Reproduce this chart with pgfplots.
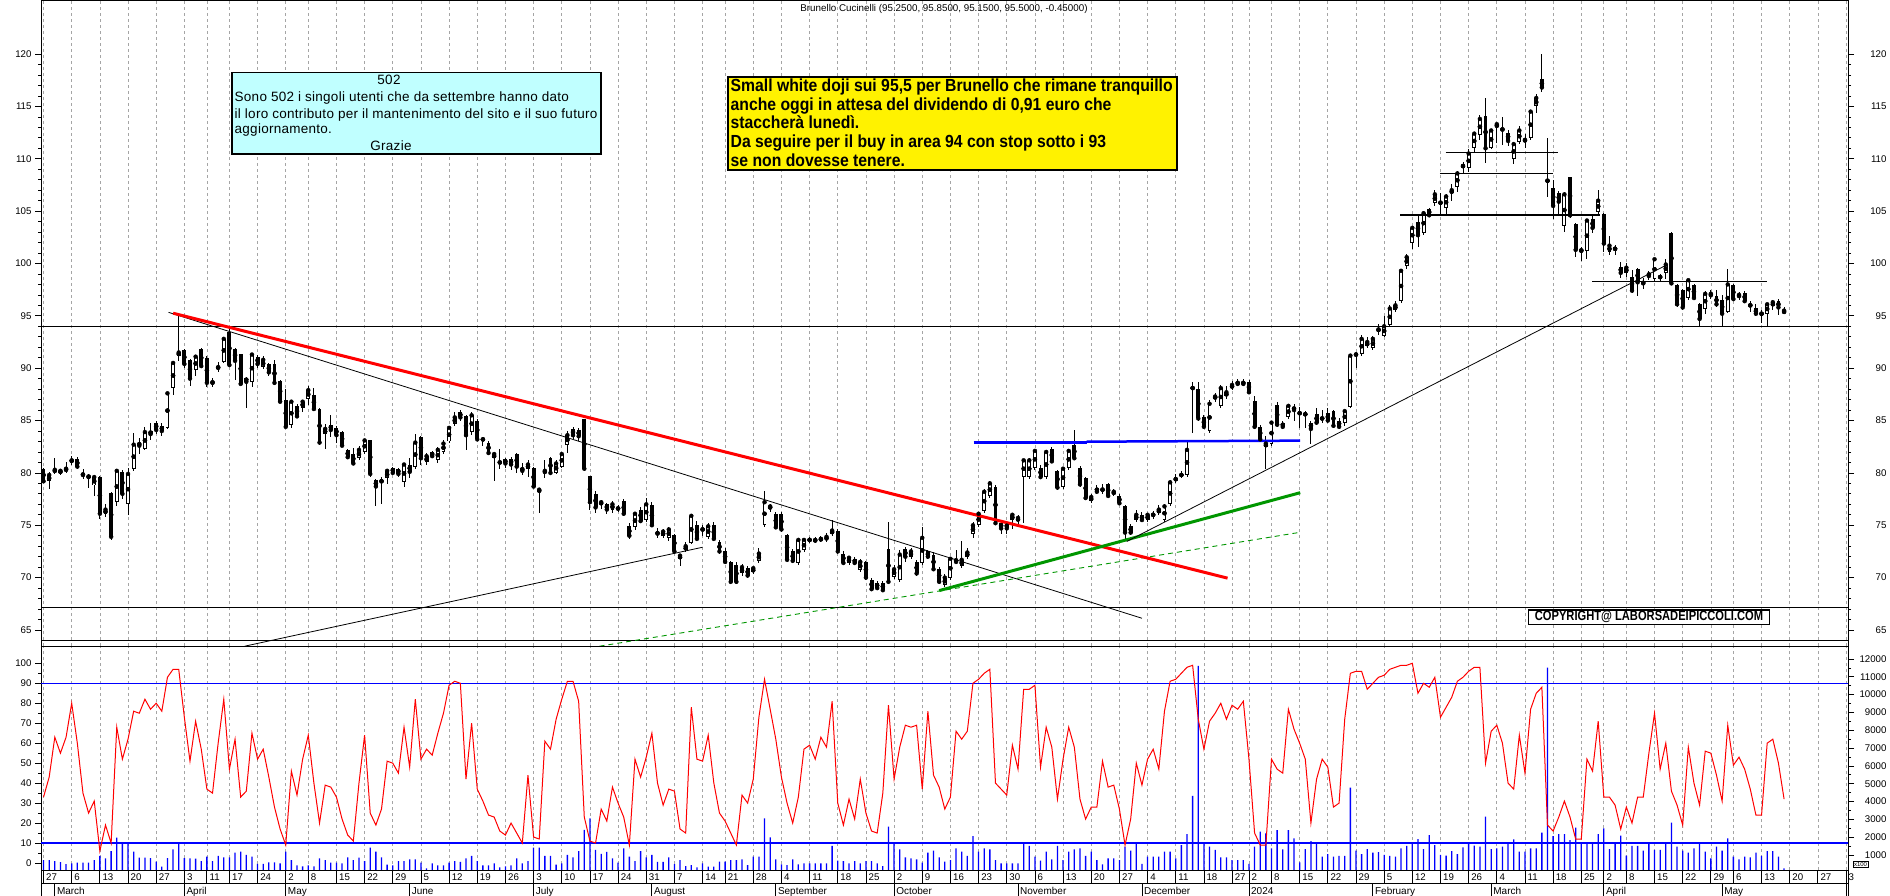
\documentclass[border=0pt]{standalone}
\usepackage{pgfplots}
\pgfplotsset{compat=1.18}
\usepackage{pgfplotstable}
\usepackage{fontspec}
\setmainfont{Liberation Sans}
\newfontfamily\narrow[FakeStretch=0.82]{Liberation Sans}
\newfontfamily\ynarrow[FakeStretch=0.9]{Liberation Sans}
\newfontfamily\spaced[LetterSpace=2]{Liberation Sans}
\definecolor{cyanbox}{RGB}{192,255,255}
\definecolor{gridgray}{RGB}{165,165,165}
\definecolor{tgreen}{RGB}{0,150,0}
\definecolor{pblue}{RGB}{0,0,255}
\definecolor{pred}{RGB}{255,0,0}

\pgfplotstableread{
i o h l c
0 80.4 80.5 79.0 79.2
1 79.2 80.1 78.5 79.8
2 80.1 81.4 79.9 80.3
3 80.0 80.4 79.8 80.2
4 80.2 81.0 80.0 80.4
5 81.1 81.6 80.8 81.2
6 81.3 81.5 80.4 80.6
7 79.9 80.4 79.4 79.8
8 79.7 79.9 78.6 79.6
9 78.8 79.8 77.8 79.6
10 79.6 79.7 75.6 76.1
11 76.1 77.0 75.8 76.5
12 78.1 78.2 73.6 73.9
13 77.2 80.4 76.8 80.2
14 80.1 80.3 77.5 78.0
15 77.0 80.5 76.0 79.9
16 80.4 83.8 80.2 82.7
17 82.9 83.3 81.8 82.6
18 82.3 84.4 82.2 83.9
19 84.0 84.8 83.1 83.7
20 84.8 85.0 83.7 84.1
21 84.5 84.8 83.5 84.0
22 84.3 87.7 84.2 87.6
23 88.1 90.5 87.4 90.5
24 91.2 95.2 90.7 91.5
25 91.7 91.8 90.0 90.4
26 90.8 90.9 88.3 89.0
27 89.8 91.3 89.3 91.1
28 91.8 91.9 90.0 90.2
29 91.0 91.2 88.2 88.6
30 88.7 89.1 88.2 88.6
31 90.0 90.6 89.6 90.1
32 90.6 92.9 90.5 92.8
33 93.5 93.7 90.2 90.3
34 91.8 91.9 88.9 90.7
35 91.4 91.4 88.4 88.5
36 89.1 89.2 86.2 88.7
37 88.7 91.4 88.2 91.3
38 91.1 91.3 90.0 90.4
39 90.1 91.2 89.9 90.8
40 90.4 90.5 89.3 89.6
41 90.4 90.8 88.4 88.6
42 88.8 88.9 86.7 86.8
43 87.0 88.0 84.3 84.4
44 84.6 86.9 84.3 86.8
45 86.4 86.6 85.3 85.4
46 86.2 87.0 85.8 86.8
47 87.1 88.3 86.5 87.9
48 87.4 88.1 85.9 86.1
49 86.1 86.2 82.7 82.9
50 83.7 84.7 82.3 84.2
51 84.6 85.5 83.4 84.1
52 84.3 84.5 82.9 83.6
53 83.9 84.0 82.5 82.6
54 82.2 82.3 81.3 81.5
55 81.8 82.4 80.8 80.9
56 81.4 82.6 81.2 82.2
57 82.0 83.2 81.8 83.1
58 83.1 83.1 79.6 79.9
59 79.3 79.4 76.8 78.7
60 79.2 79.6 77.0 79.2
61 79.5 80.3 78.9 80.2
62 80.5 80.6 79.8 80.0
63 80.4 80.5 79.6 79.9
64 79.1 80.9 78.7 80.8
65 80.8 81.4 79.5 80.1
66 80.6 83.7 80.4 82.9
67 83.4 83.5 80.8 81.4
68 81.0 81.9 80.8 81.6
69 82.0 82.1 81.5 81.6
70 81.2 82.5 80.9 82.2
71 82.0 83.1 81.8 82.8
72 83.0 84.5 82.9 84.3
73 84.7 85.8 84.5 85.3
74 85.8 86.0 85.0 85.3
75 85.4 85.5 82.2 83.6
76 83.9 85.8 83.6 85.5
77 85.0 85.1 83.0 83.2
78 83.2 83.4 82.6 83.2
79 82.9 83.0 81.7 81.9
80 81.4 82.0 79.2 81.8
81 81.0 82.3 80.4 81.0
82 81.3 81.4 80.5 80.9
83 81.3 81.5 80.3 80.8
84 81.8 81.9 80.0 80.6
85 80.5 80.9 79.8 80.2
86 80.4 81.2 79.6 80.8
87 80.5 80.6 78.6 78.7
88 78.2 78.6 76.2 78.4
89 80.0 81.2 79.5 80.2
90 81.4 81.5 79.8 80.0
91 80.0 81.2 79.9 80.9
92 80.6 82.0 80.5 81.8
93 82.7 84.0 81.9 83.6
94 84.2 84.4 83.2 83.6
95 84.1 84.3 83.0 83.5
96 85.1 85.1 80.2 80.4
97 79.7 79.7 76.5 77.2
98 78.0 78.3 76.2 76.7
99 77.0 77.4 76.6 77.2
100 77.0 77.1 76.1 76.5
101 76.5 77.3 76.2 77.0
102 76.6 76.9 76.3 76.6
103 77.3 77.5 75.9 76.1
104 74.9 75.2 73.7 74.0
105 74.8 76.2 74.5 76.1
106 76.5 76.7 75.2 75.4
107 75.5 77.6 75.3 77.0
108 76.9 77.2 74.9 75.0
109 74.3 74.7 73.8 74.2
110 74.0 74.6 73.8 74.4
111 73.8 74.8 73.5 74.6
112 74.1 74.2 72.3 72.5
113 71.8 72.3 71.1 72.1
114 72.6 73.4 72.4 73.0
115 73.3 76.1 73.2 75.9
116 75.0 75.4 73.5 73.7
117 74.6 75.0 74.0 74.6
118 73.9 75.2 73.7 74.9
119 75.0 75.3 73.5 73.7
120 73.4 73.6 72.3 72.5
121 72.5 72.8 71.3 71.5
122 71.5 71.6 69.4 69.6
123 71.2 71.5 69.4 69.6
124 70.4 71.3 70.2 71.0
125 70.9 71.1 70.0 70.2
126 70.5 71.0 70.3 70.9
127 71.6 72.8 71.4 72.3
128 75.0 78.3 74.8 77.2
129 76.6 77.0 76.3 76.8
130 76.1 76.3 74.6 74.8
131 76.1 76.3 74.4 74.6
132 74.1 74.2 71.5 71.7
133 72.5 72.7 71.4 71.6
134 71.4 73.8 71.2 73.6
135 72.6 73.8 72.4 73.6
136 73.6 73.9 73.3 73.6
137 73.5 73.9 73.3 73.6
138 73.6 74.0 73.4 73.7
139 73.6 74.3 73.4 73.9
140 74.2 75.5 74.0 74.5
141 74.5 74.6 72.3 72.5
142 72.3 72.5 71.2 71.4
143 71.4 72.1 71.2 71.9
144 71.8 72.0 71.2 71.4
145 70.7 71.8 70.5 71.5
146 71.5 71.6 69.8 70.0
147 69.8 70.0 68.8 68.9
148 69.5 69.7 68.8 69.0
149 69.5 69.7 68.6 68.8
150 72.7 75.3 69.4 69.6
151 70.1 71.2 69.9 70.8
152 69.8 72.6 69.6 72.2
153 72.7 72.9 71.5 72.0
154 72.0 72.8 71.8 72.5
155 71.5 71.7 70.2 70.4
156 71.4 74.8 71.2 73.8
157 72.5 72.6 71.8 72.0
158 72.2 72.4 70.6 70.8
159 70.8 71.0 69.4 69.6
160 69.3 70.3 69.1 70.0
161 70.0 72.0 69.8 71.8
162 71.8 72.6 71.3 71.5
163 71.1 73.5 70.9 71.7
164 72.0 72.8 71.8 72.4
165 74.2 75.3 73.8 75.0
166 75.0 76.3 74.8 76.1
167 76.4 78.5 76.2 78.2
168 77.8 79.2 77.6 79.0
169 78.7 78.8 75.0 75.2
170 75.2 75.4 74.2 74.7
171 75.2 75.4 74.2 74.7
172 75.5 76.2 74.6 76.0
173 75.4 76.0 75.0 75.7
174 79.6 81.3 75.2 81.2
175 79.6 81.4 79.4 81.2
176 80.5 82.3 80.3 82.1
177 80.5 80.8 79.4 79.6
178 79.6 82.2 79.4 82.0
179 82.3 82.5 80.9 81.1
180 80.2 80.3 78.4 78.6
181 78.7 80.6 78.5 80.4
182 80.5 82.3 80.3 82.1
183 82.7 84.1 81.2 81.4
184 80.5 80.7 78.7 78.9
185 79.5 79.6 77.4 77.6
186 77.3 78.0 77.1 77.7
187 78.6 78.8 78.0 78.2
188 78.4 78.9 78.0 78.4
189 78.9 79.0 77.6 77.8
190 78.0 78.5 77.8 78.2
191 77.8 78.0 76.9 77.1
192 76.8 76.9 73.5 74.3
193 74.9 75.1 74.1 74.3
194 75.5 76.5 75.3 76.0
195 76.0 76.3 75.3 75.5
196 75.5 76.2 75.3 76.0
197 76.0 76.4 75.6 76.0
198 76.2 76.9 76.0 76.5
199 75.5 77.0 75.3 76.8
200 77.0 79.3 76.8 79.1
201 79.4 79.9 79.0 79.4
202 79.8 80.2 79.5 79.8
203 79.8 83.0 79.6 82.2
204 88.1 88.7 83.8 88.1
205 88.0 88.7 85.0 85.2
206 85.3 85.5 84.2 84.4
207 84.0 87.0 83.8 86.6
208 87.1 87.6 86.8 87.3
209 86.4 88.4 86.2 88.1
210 87.3 88.3 87.1 87.7
211 88.1 88.8 87.9 88.4
212 88.7 89.0 88.3 88.5
213 88.7 89.0 88.3 88.5
214 88.7 88.9 87.5 87.7
215 86.9 87.3 84.2 84.4
216 84.4 84.6 83.0 83.2
217 82.5 83.5 80.4 82.8
218 82.8 85.0 82.6 84.8
219 86.5 86.8 84.4 84.6
220 84.8 85.0 84.2 84.4
221 85.3 86.6 85.1 86.4
222 86.3 86.6 85.0 86.0
223 85.7 86.3 84.3 85.7
224 85.6 85.9 84.3 85.6
225 84.8 85.0 82.8 84.2
226 85.6 86.2 84.6 84.8
227 85.2 86.0 84.8 85.2
228 85.7 86.2 84.8 85.0
229 85.9 86.0 84.3 84.5
230 85.0 85.2 84.2 84.4
231 84.8 86.0 84.5 85.9
232 86.3 91.3 86.2 91.2
233 91.3 91.5 90.0 91.3
234 91.4 93.2 91.2 92.8
235 92.1 93.0 91.9 92.5
236 91.9 93.1 91.7 92.8
237 93.6 94.2 93.2 93.7
238 93.1 95.0 93.0 94.0
239 94.1 96.0 93.9 95.7
240 95.6 96.4 95.4 96.0
241 96.4 99.5 96.2 99.3
242 99.8 100.9 99.5 100.6
243 102.0 103.6 101.4 103.4
244 104.0 104.5 101.6 102.7
245 102.9 105.0 102.7 104.8
246 105.2 105.3 104.4 104.6
247 105.8 107.0 105.5 106.6
248 105.8 106.7 104.6 105.8
249 105.3 106.6 104.5 106.4
250 106.7 107.6 106.0 107.0
251 107.3 108.8 106.8 108.6
252 109.3 109.7 108.6 109.3
253 109.1 110.9 108.7 110.5
254 111.0 112.5 110.6 112.4
255 112.3 114.2 111.8 113.8
256 114.1 115.8 109.6 111.0
257 111.0 112.8 110.9 112.7
258 113.0 113.4 111.5 113.3
259 112.8 114.0 111.3 112.8
260 112.5 112.7 111.2 111.7
261 110.0 111.6 109.5 111.4
262 111.6 113.1 111.4 112.7
263 111.7 112.4 111.0 111.8
264 112.0 114.6 111.8 114.5
265 115.0 116.2 114.4 115.8
266 117.6 120.0 116.4 116.8
267 107.9 112.0 106.3 107.9
268 107.2 108.0 104.2 105.5
269 106.7 106.9 104.5 105.9
270 103.6 106.8 103.0 106.6
271 108.3 108.3 104.3 104.6
272 103.8 103.9 100.6 101.3
273 101.3 101.6 100.2 101.2
274 101.2 104.2 100.4 104.1
275 104.2 104.6 102.9 103.4
276 104.9 107.0 104.6 106.0
277 104.7 104.8 101.1 101.9
278 101.1 102.6 100.8 101.7
279 101.4 101.8 100.8 101.4
280 99.7 100.1 98.6 99.1
281 99.1 100.0 98.7 99.6
282 98.7 99.4 97.2 97.4
283 99.5 99.6 96.9 98.2
284 98.2 98.6 97.6 98.1
285 99.1 99.3 98.4 98.8
286 98.5 100.5 98.2 100.4
287 98.7 99.0 98.3 98.7
288 99.1 100.4 98.5 99.9
289 102.9 103.0 97.9 98.1
290 97.9 98.0 95.8 96.1
291 97.5 97.6 95.6 95.8
292 96.7 98.5 96.5 98.4
293 97.9 98.0 96.5 96.7
294 96.1 96.2 93.9 94.7
295 95.7 97.4 95.2 97.1
296 96.9 97.5 96.6 97.1
297 96.9 97.5 95.8 96.1
298 96.5 97.0 94.0 95.2
299 95.4 99.5 95.3 98.0
300 97.9 98.0 96.4 96.6
301 96.8 97.3 96.5 97.0
302 97.2 97.4 96.2 96.4
303 96.0 96.4 95.4 96.0
304 95.7 96.1 95.0 95.2
305 95.2 95.6 94.3 95.2
306 95.2 96.2 94.0 96.1
307 95.9 96.5 95.6 96.3
308 96.4 96.6 95.1 95.8
309 95.25 95.85 95.15 95.5
}\price

\pgfplotstableread{
i k v
0 33 718
1 43 718
2 63 660
3 55 600
4 63 490
5 80 530
6 60 570
7 35 570
8 25 570
9 31 718
10 6 943
11 19 812
12 10 1223
13 68 1970
14 52 1616
15 62 1710
16 76 1186
17 75 850
18 82 850
19 77 830
20 80 625
21 76 344
22 93 830
23 97 1310
24 97 1710
25 73 830
26 51 810
27 71 790
28 57 660
29 37 905
30 35 660
31 60 943
32 82 870
33 47 870
34 62 1130
35 33 1186
36 36 1000
37 65 905
38 52 500
39 57 500
40 43 590
41 28 590
42 17 530
43 9 1186
44 46 718
45 34 420
46 52 363
47 64 420
48 40 363
49 20 810
50 39 718
51 38 570
52 33 570
53 22 530
54 14 870
55 11 718
56 40 850
57 64 660
58 25 1410
59 19 1186
60 27 870
61 51 455
62 50 420
63 45 660
64 68 660
65 48 750
66 82 750
67 52 570
68 57 250
69 54 530
70 65 420
71 75 420
72 89 570
73 91 660
74 90 620
75 42 810
76 70 943
77 37 660
78 31 420
79 24 420
80 23 530
81 16 300
82 14 363
83 20 420
84 15 810
85 10 530
86 44 660
87 13 1410
88 12 1410
89 61 943
90 57 943
91 72 455
92 82 530
93 91 1000
94 91 870
95 81 1223
96 23 2410
97 11 3060
98 10 1280
99 27 1060
100 21 1180
101 38 810
102 30 570
103 23 1370
104 9 910
105 52 660
106 43 1220
107 53 870
108 65 1000
109 40 620
110 29 620
111 37 870
112 36 480
113 17 718
114 15 380
115 78 437
116 52 306
117 51 531
118 64 343
119 40 343
120 25 624
121 21 624
122 15 718
123 9 718
124 34 755
125 30 437
126 42 905
127 73 905
128 92 3056
129 77 1990
130 62 755
131 43 475
132 30 437
133 20 755
134 33 475
135 57 531
136 59 531
137 52 531
138 63 531
139 58 531
140 81 1504
141 30 680
142 19 662
143 32 531
144 22 662
145 42 531
146 25 662
147 16 662
148 15 531
149 35 381
150 79 2589
151 42 1653
152 58 1317
153 69 868
154 68 811
155 69 755
156 37 568
157 76 1130
158 44 1242
159 38 868
160 27 624
161 33 718
162 66 1373
163 62 1186
164 66 943
165 90 2065
166 92 1186
167 95 1373
168 97 1317
169 40 718
170 37 531
171 34 531
172 59 531
173 47 531
174 87 1691
175 87 1504
176 89 905
177 48 680
178 68 1186
179 58 755
180 32 1504
181 52 718
182 68 1186
183 58 1317
184 32 1373
185 22 943
186 28 1186
187 28 718
188 51 475
189 38 811
190 39 811
191 27 718
192 9 1466
193 22 1242
194 50 1616
195 39 494
196 52 905
197 57 905
198 47 905
199 76 1186
200 91 1186
201 92 811
202 95 1560
203 98 2177
204 99 4310
205 72 11605
206 57 1691
207 71 1466
208 75 1280
209 80 868
210 72 868
211 79 718
212 77 718
213 81 718
214 52 494
215 15 1466
216 9 2308
217 9 2214
218 52 1373
219 47 2401
220 45 1317
221 77 2401
222 67 1934
223 60 587
224 52 1335
225 20 1784
226 42 1616
227 52 905
228 48 1055
229 28 905
230 30 943
231 72 943
232 95 4777
233 96 1242
234 96 1055
235 87 1335
236 90 1130
237 93 1167
238 94 999
239 97 943
240 98 905
241 99 1373
242 99 1504
243 100 1709
244 85 1896
245 90 1335
246 88 2121
247 93 1560
248 73 999
249 78 962
250 83 1223
251 91 1055
252 93 1429
253 96 1691
254 98 1522
255 98 1466
256 50 3150
257 66 1335
258 69 1373
259 60 1466
260 40 1691
261 37 1878
262 64 1186
263 45 1186
264 77 1373
265 85 1373
266 88 2251
267 19 11511
268 16 2065
269 23 2177
270 31 2177
271 23 1840
272 12 2532
273 12 1709
274 52 1653
275 46 1653
276 71 2177
277 33 2495
278 33 1335
279 29 1709
280 17 2083
281 28 962
282 20 1504
283 33 1504
284 33 1242
285 55 1691
286 75 1280
287 47 1280
288 60 1691
289 36 2813
290 29 1466
291 19 1242
292 58 1130
293 40 1373
294 29 1709
295 56 1186
296 55 811
297 44 1466
298 31 1242
299 69 1934
300 49 905
301 53 755
302 47 905
303 37 868
304 24 1130
305 24 943
306 60 1223
307 62 1223
308 50 905
309 32 250
}\osctab

\def\weekticks{0,5,10,15,20,25,29,33,38,43,47,52,57,62,67,72,77,82,87,92,97,102,107,112,117,121,126,131,136,141,146,151,156,161,166,171,176,181,186,191,196,201,206,211,214,218,223,228,233,238,243,248,253,258,263,268,273,277,281,286,291,296,300,305,310,315,320}

\begin{document}
\begin{tikzpicture}
\path[use as bounding box] (0,0) rectangle (1890pt,895pt);
\pgfplotsset{every axis/.append style={
  scale only axis, width=1807pt, xmin=-0.45, xmax=320.35, no markers,
  axis line style={line width=0.8pt},
  tick label style={font=\fontsize{9.7}{11}\selectfont},
  /pgf/number format/assume math mode=true,
  /pgf/number format/1000 sep={},
  scaled y ticks=false,
  tick align=outside, major tick length=6pt, minor tick length=3pt,
  tick style={black, line width=0.7pt},
}}
% ---------- price panel ----------
\begin{axis}[at={(41pt,249pt)}, anchor=south west, height=646pt,
  ymin=63.47, ymax=125.16,
  xtick/.expanded=\weekticks, xmajorticks=false,
  xmajorgrids, major grid style={gridgray, dash pattern=on 3pt off 3pt, line width=0.7pt},
  ytick={65,70,...,120}, minor y tick num=4, ytick pos=left]
% wicks
\addplot[only marks, error bars/.cd, y dir=both, y explicit, error mark=none,
  error bar style={black, solid, line width=0.9pt}]
  table[x=i, y=c, y error plus expr=\thisrow{h}-\thisrow{c}, y error minus expr=\thisrow{c}-\thisrow{l}] {\price};
% bodies
\addplot[only marks, error bars/.cd, y dir=both, y explicit, error mark=none,
  error bar style={black, solid, line width=3.9pt}]
  table[x=i, y expr=(\thisrow{o}+\thisrow{c})/2, y error expr={max(abs(\thisrow{o}-\thisrow{c})/2,0.05)}] {\price};
% white fill of rising candles
\addplot[only marks, error bars/.cd, y dir=both, y explicit, error mark=none,
  error bar style={white, solid, line width=2.0pt}]
  table[x=i, y expr=(\thisrow{o}+\thisrow{c})/2, y error expr={max((\thisrow{c}-\thisrow{o})/2-0.09,0)}] {\price};
% horizontal levels
\addplot[black, line width=1.1pt] coordinates {(-1,94.0) (322,94.0)};
\addplot[black, line width=1.1pt] coordinates {(-1,67.17) (322,67.17)};
\addplot[black, line width=1.1pt] coordinates {(-1,64.02) (322,64.02)};
% trend lines
\addplot[black, line width=0.8pt] coordinates {(22.2,95.33) (195.0,66.12)};
\addplot[black, line width=0.8pt] coordinates {(35.7,63.45) (117.0,72.9)};
\addplot[tgreen, line width=0.9pt, dash pattern=on 5pt off 4pt] coordinates {(98.7,63.45) (223.1,74.33)};
\addplot[pred, line width=3pt] coordinates {(23,95.25) (210.2,69.95)};
\addplot[tgreen, line width=3pt] coordinates {(159.0,68.76) (223.1,78.11)};
\addplot[pblue, line width=2.5pt] coordinates {(165.1,82.88) (185.2,82.88)};
\addplot[pblue, line width=2.5pt] coordinates {(185.2,82.98) (223.1,83.08)};
\addplot[black, line width=0.8pt] coordinates {(192.3,73.45) (288.3,99.9)};
\addplot[black, line width=1.1pt] coordinates {(248.9,110.6) (268.8,110.6)};
\addplot[black, line width=1.1pt] coordinates {(247.9,108.6) (267.9,108.6)};
\addplot[black, line width=2.4pt] coordinates {(240.9,104.63) (276.3,104.63)};
\addplot[black, line width=1.1pt] coordinates {(274.9,98.26) (305.9,98.26)};
\end{axis}
% right price labels
\begin{axis}[at={(41pt,249pt)}, anchor=south west, height=646pt,
  ymin=63.47, ymax=125.16, hide x axis, axis y line*=right,
  ytick={65,70,...,120}, minor y tick num=4,
  yticklabel style={anchor=east, xshift=36pt}]
\addplot[draw=none] coordinates {(0,70)};
\end{axis}
% ---------- lower panel: volume ----------
\begin{axis}[at={(41pt,25pt)}, anchor=south west, height=224pt,
  ymin=157, ymax=12727,
  xtick/.expanded=\weekticks, xmajorticks=false,
  xmajorgrids, major grid style={gridgray, dash pattern=on 3pt off 3pt, line width=0.7pt},
  ytick={1000,2000,...,12000}, minor y tick num=1, ytick pos=right,
  yticklabel pos=right, yticklabel style={anchor=east, xshift=36pt}]
\addplot[ybar, bar width=1.3pt, fill=pblue, draw=none] table[x=i, y=v] {\osctab};
\end{axis}
% ---------- lower panel: oscillator ----------
\begin{axis}[at={(41pt,25pt)}, anchor=south west, height=224pt,
  ymin=-3.5, ymax=108.66, hide x axis, axis y line*=left,
  ytick={0,10,...,100}, minor y tick num=1]
\addplot[pblue, line width=1.4pt] coordinates {(-1,90) (322,90)};
\addplot[pblue, line width=1.4pt] coordinates {(-1,10) (322,10)};
\addplot[pred, line width=1pt] table[x=i, y=k] {\osctab};
\end{axis}
% ---------- day strip ----------
\begin{axis}[at={(41pt,12pt)}, anchor=south west, height=13pt,
  ymin=0, ymax=1, ytick=\empty, major tick length=0pt,
  xtick/.expanded=\weekticks,
  xticklabels={27,6,13,20,27,3,11,17,24,2,8,15,22,29,5,12,19,26,3,10,17,24,31,7,14,21,28,4,11,18,25,2,9,16,23,30,6,13,20,27,4,11,18,27,2,8,15,22,29,5,12,19,26,4,11,18,25,2,8,15,22,29,6,13,20,27,3},
  xmajorgrids, major grid style={black, line width=0.8pt},
  xticklabel style={anchor=base west, inner sep=0pt, xshift=2.5pt, yshift=3pt, font=\fontsize{9.7}{11}\selectfont}]
\addplot[draw=none] coordinates {(0,0.5)};
\end{axis}
% ---------- month strip ----------
\begin{axis}[at={(41pt,-3pt)}, anchor=south west, height=15pt,
  ymin=0, ymax=1, ytick=\empty, major tick length=0pt,
  xtick={2,25,43,65,87,108,130,151,173,195,214,236,257,277,298,320},
  xticklabels={March,April,May,June,July,August,September,October,November,December,2024,February,March,April,May,{}},
  xmajorgrids, major grid style={black, line width=0.8pt},
  xticklabel style={anchor=base west, inner sep=0pt, xshift=2pt, yshift=3.8pt, font=\fontsize{10}{11}\selectfont}]
\addplot[draw=none] coordinates {(0,0.5)};
\end{axis}
% ---------- texts ----------
\node[font=\fontsize{9.8}{11}\selectfont] at (944pt,886pt) {Brunello Cucinelli (95.2500, 95.8500, 95.1500, 95.5000, -0.45000)};
% cyan box
\path[draw=black, line width=1.6pt, fill=cyanbox] (232pt,741pt) rectangle (601pt,822.3pt);
\begin{scope}[every node/.style={inner sep=0pt, font=\spaced\fontsize{13.5}{15}\selectfont}]
\node[anchor=base] at (389pt,810pt) {502};
\node[anchor=base west] at (234.5pt,793.3pt) {Sono 502 i singoli utenti che da settembre hanno dato};
\node[anchor=base west] at (234.5pt,776.7pt) {il loro contributo per il mantenimento del sito e il suo futuro};
\node[anchor=base west] at (234.5pt,761.2pt) {aggiornamento.};
\node[anchor=base] at (391pt,744.8pt) {Grazie};
\end{scope}
% yellow box
\path[draw=black, line width=2pt, fill=yellow] (727.7pt,724.7pt) rectangle (1176.8pt,818.3pt);
\begin{scope}[every node/.style={inner sep=0pt, anchor=base west, font=\ynarrow\bfseries\fontsize{17.5}{19}\selectfont}]
\node at (730.5pt,803.3pt) {Small white doji sui 95,5 per Brunello che rimane tranquillo};
\node at (730.5pt,784.7pt) {anche oggi in attesa del dividendo di 0,91 euro che};
\node at (730.5pt,766pt) {staccherà lunedì.};
\node at (730.5pt,747.3pt) {Da seguire per il buy in area 94 con stop sotto i 93};
\node at (730.5pt,728.6pt) {se non dovesse tenere.};
\end{scope}
% copyright
\path[draw=black, line width=1.2pt, fill=white] (1528.4pt,270.7pt) rectangle (1769.6pt,285pt);
\node[inner sep=0pt, font=\narrow\bfseries\fontsize{13.6}{14}\selectfont] at (1649pt,277.8pt) {COPYRIGHT@ LABORSADEIPICCOLI.COM};
% x100
\node[draw=black, line width=0.6pt, inner sep=0.8pt, font=\fontsize{6}{7}\selectfont] at (1860.5pt,31pt) {x100};
\end{tikzpicture}
\end{document}
